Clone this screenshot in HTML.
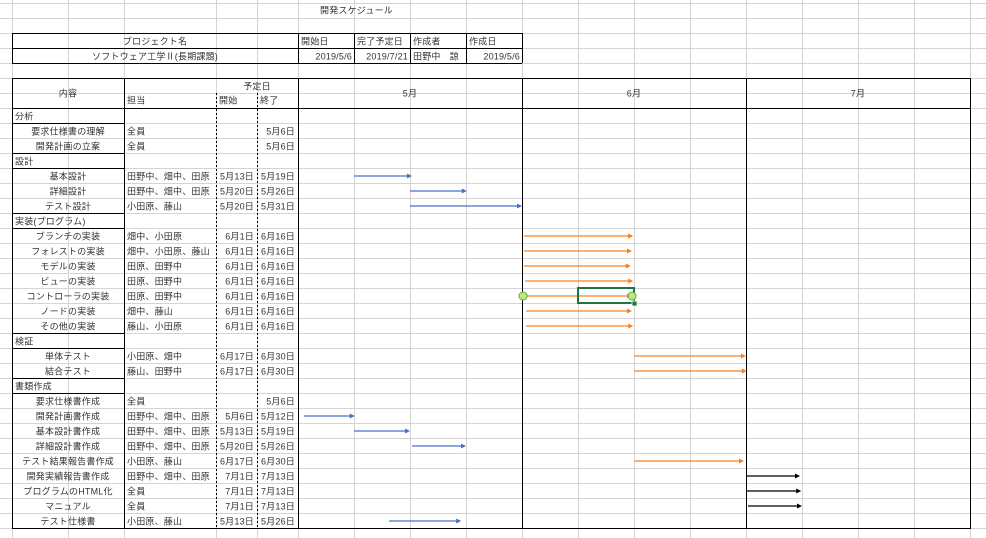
<!DOCTYPE html>
<html><head><meta charset="utf-8"><style>
html,body{margin:0;padding:0;background:#fff;}
svg{display:block;font-family:"Liberation Sans","Noto Sans CJK JP",sans-serif;}
</style></head><body>
<svg id="s" width="986" height="538" viewBox="0 0 986 538" xmlns="http://www.w3.org/2000/svg"></svg>
<script>
const rowNames=["分析","要求仕様書の理解","開発計画の立案","設計","基本設計","詳細設計","テスト設計","実装(プログラム)","ブランチの実装","フォレストの実装","モデルの実装","ビューの実装","コントローラの実装","ノードの実装","その他の実装","検証","単体テスト","結合テスト","書類作成","要求仕様書作成","開発計画書作成","基本設計書作成","詳細設計書作成","テスト結果報告書作成","開発実績報告書作成","プログラムのHTML化","マニュアル","テスト仕様書"];
const rowGroup=[1,0,0,1,0,0,0,1,0,0,0,0,0,0,0,1,0,0,1,0,0,0,0,0,0,0,0,0];
const rowOwner=["","全員","全員","","田野中、畑中、田原","田野中、畑中、田原","小田原、藤山","","畑中、小田原","畑中、小田原、藤山","田原、田野中","田原、田野中","田原、田野中","畑中、藤山","藤山、小田原","","小田原、畑中","藤山、田野中","","全員","田野中、畑中、田原","田野中、畑中、田原","田野中、畑中、田原","小田原、藤山","田野中、畑中、田原","全員","全員","小田原、藤山"];
const rowStart=["","","","","5月13日","5月20日","5月20日","","6月1日","6月1日","6月1日","6月1日","6月1日","6月1日","6月1日","","6月17日","6月17日","","","5月6日","5月13日","5月20日","6月17日","7月1日","7月1日","7月1日","5月13日"];
const rowEnd=["","5月6日","5月6日","","5月19日","5月26日","5月31日","","6月16日","6月16日","6月16日","6月16日","6月16日","6月16日","6月16日","","6月30日","6月30日","","5月6日","5月12日","5月19日","5月26日","6月30日","7月13日","7月13日","7月13日","5月26日"];
// arrows: row index, start/end in days since 5/6, colour key
const arrowRow=[4,5,6,8,9,10,11,12,13,14,16,17,20,21,22,23,24,25,26,27];
const arrowStart=[7,14,14,28.25,28.25,28.25,28.4,28.1,28.5,28.5,42,42,0.75,7,14.25,42.1,56.1,56.1,56.25,11.4];
const arrowEnd=[14.25,21.1,28,41.9,41.75,41.6,41.9,41.75,41.75,41.9,56,56.1,7.1,14,21,55.75,62.75,62.9,63,20.4];
const arrowKind=["b","b","b","o","o","o","o","o","o","o","o","o","b","b","b","o","k","k","k","b"];
const months=["5月","6月","7月"];

const NS="http://www.w3.org/2000/svg",S=document.getElementById("s");
const X0=298,DAY=8,TOP=108,RH=15;
const xd=d=>X0+d*DAY, yr=r=>TOP+r*RH+RH/2;
const col={b:"#4472c4",o:"#f58220",k:"#000"};
function el(t,a,p){const e=document.createElementNS(NS,t);for(const k in a)e.setAttribute(k,a[k]);(p||S).appendChild(e);return e;}
function line(x1,y1,x2,y2,c,w,dash){const l=el("line",{x1,y1,x2,y2,stroke:c,"stroke-width":w||1});if(dash)l.setAttribute("stroke-dasharray",dash);return l;}
function txt(x,y,s,anchor,name){const t=el("text",{x,y:y+1,"font-size":"9","letter-spacing":"0.2",fill:"#333","text-anchor":anchor||"start","dominant-baseline":"middle"});t.textContent=s;

return t;}
// gray grid
const gx=[12,68,124,216,257];for(let x=298;x<=986;x+=56)gx.push(x);
gx.forEach(x=>line(x+.5,0,x+.5,538,"#d4d4d4",1));
for(let y=3;y<=538;y+=15)line(0,y+.5,986,y+.5,"#d4d4d4",1);
// title
txt(320,10,"開発スケジュール","start","sheet-title");
// top info table
const tx=[12,298,354,410,466,522];
[33,48,63].forEach(y=>line(12,y+.5,522,y+.5,"#000",1));
tx.forEach(x=>line(x+.5,33,x+.5,63,"#000",1));
txt(155,41,"プロジェクト名","middle","project-name-label");
txt(301,41,"開始日","start","start-date-label");txt(357,41,"完了予定日","start","end-date-label");
txt(413,41,"作成者","start","author-label");txt(469,41,"作成日","start","created-label");
txt(155,56,"ソフトウェア工学Ⅱ(長期課題)","middle","project-name");
txt(352,56,"2019/5/6","end","start-date");txt(408,56,"2019/7/21","end","end-date");
txt(413,56,"田野中　諒","start","author");txt(520,56,"2019/5/6","end","created-date");
// main table frame
line(12,78.5,970,78.5,"#000");line(12,108.5,970,108.5,"#000");line(12,528.5,970,528.5,"#000");
[12,124,298,522,746,970].forEach(x=>line(x+.5,78,x+.5,529,"#000"));
[216,257].forEach(x=>line(x+.5,93,x+.5,528,"#000",1,"2,2"));
txt(68,93,"内容","middle","header-content");txt(127,100,"担当","start","header-owner");
txt(257,86,"予定日","middle","header-planned");txt(219,100,"開始","start","header-start");txt(260,100,"終了","start","header-end");
months.forEach((m,i)=>txt(410+224*i,93,m,"middle","month-"+(i+5)));
// rows
rowNames.forEach((n,r)=>{const y=yr(r)+.5;
 if(rowGroup[r]){line(12,TOP+r*RH+.5,124,TOP+r*RH+.5,"#000");line(12,TOP+(r+1)*RH+.5,124,TOP+(r+1)*RH+.5,"#000");txt(15,y,n,"start","group-"+r);}
 else txt(68,y,n,"middle","task-"+r);
 if(rowOwner[r])txt(127,y,rowOwner[r],"start","owner-"+r);
 if(rowStart[r])txt(254,y,rowStart[r],"end","start-"+r);
 if(rowEnd[r])txt(295,y,rowEnd[r],"end","end-"+r);
});
// arrows
arrowRow.forEach((r,i)=>{const y=yr(r)+.5,x1=xd(arrowStart[i]),x2=xd(arrowEnd[i]),c=col[arrowKind[i]];
 const g=el("g",{});
 
 
 g.appendChild(line(x1,y,x2-4,y,c,1.2));
 el("polygon",{points:`${x2},${y} ${x2-5},${y-2.5} ${x2-5},${y+2.5}`,fill:c},g);});
// selection
const sel=el("rect",{x:578,y:288,width:56,height:15,fill:"none",stroke:"#217346","stroke-width":2});


el("rect",{x:632,y:301,width:5,height:5,fill:"#217346",stroke:"#fff","stroke-width":.8});
[523,632].forEach(x=>{const c=el("circle",{cx:x,cy:296,r:4,fill:"#b6ec7c",stroke:"#6ea33c","stroke-width":1});

});
</script>
</body></html>
